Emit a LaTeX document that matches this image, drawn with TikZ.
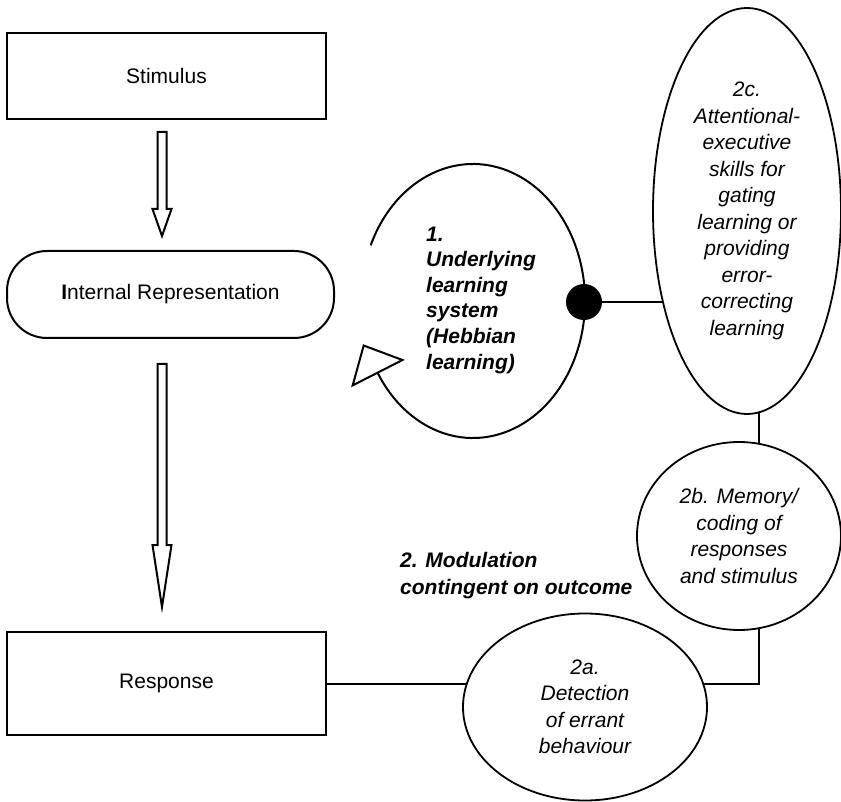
\documentclass[tikz,border=0pt]{standalone}
\usepackage{fontspec}
\setmainfont{Liberation Sans}
\usetikzlibrary{shapes.geometric,arrows.meta,calc}
\begin{document}
\begin{tikzpicture}[x=1pt,y=1pt,
  every node/.style={font=\fontsize{21}{25.6}\selectfont, inner sep=0pt},
  line/.style={line width=2pt},
  boxnode/.style={draw, line width=2pt, rectangle},
  ell/.style={draw, line width=1.8pt, ellipse, align=center, font=\fontsize{21}{26.5}\selectfont\itshape},
  blockarrow/.style={draw, line width=2pt, fill=white, line join=miter}
]
\useasboundingbox (0,0) rectangle (841,-802);

% boxes
\node[boxnode, minimum width=319, minimum height=86] (stim) at (166.5,-76) {Stimulus};
\node[boxnode, rounded corners=40, minimum width=327, minimum height=87] (ir) at (170.5,-294.5) {\textbf{I}nternal Representation\hspace{6pt}};
\node[boxnode, minimum width=319, minimum height=103] (resp) at (166.5,-683.5) {Response};

% block arrows
\coordinate (a1s) at (162,-132);
\coordinate (a1t) at (162,-236);
\draw[blockarrow] ($(a1s)+(-4.5,0)$) -- ($(a1s)+(4.5,0)$) -- ($(a1t)+(4.5,27)$) -- ($(a1t)+(9.5,27)$) -- (a1t) -- ($(a1t)+(-9.5,27)$) -- ($(a1t)+(-4.5,27)$) -- cycle;
\coordinate (a2s) at (162,-364);
\coordinate (a2t) at (162,-607);
\draw[blockarrow] ($(a2s)+(-4.5,0)$) -- ($(a2s)+(4.5,0)$) -- ($(a2t)+(4.5,62)$) -- ($(a2t)+(9.5,62)$) -- (a2t) -- ($(a2t)+(-9.5,62)$) -- ($(a2t)+(-4.5,62)$) -- cycle;

% loop
\coordinate (loopc) at (473,-301);
\draw[line, -{Triangle[open, length=33pt, width=60pt, line width=2pt]}]
  ($(loopc)+(156:112 and 137)$) arc[start angle=156, end angle=-148, x radius=112, y radius=137] -- ++(-15,29.4);
\node[anchor=west, align=left, font=\fontsize{21}{25.6}\selectfont\bfseries\itshape] (hebb) at (426,-300)
  {1.\\Underlying\\learning\\system\\(Hebbian\\learning)};

% ellipses
\node[ell, minimum width=188, minimum height=406] (c2c) at (747,-211)
  {2c.\\Attentional-\\executive\\skills for\\gating\\learning or\\providing\\error-\\correcting\\learning};
\node[ell, minimum width=204, minimum height=188] (c2b) at (739,-536)
  {2b. Memory/\\coding of\\responses\\and stimulus};
\node[ell, minimum width=244, minimum height=187] (c2a) at (585,-707)
  {2a.\\Detection\\of errant\\behaviour};

\node[anchor=west, align=left, font=\fontsize{21}{27}\selectfont\bfseries\itshape] (mod) at (400,-575.5)
  {2. Modulation\\contingent on outcome};

% dot and connectors
\node[circle, fill=black, minimum size=36] (dot) at (584,-302) {};
\draw[line] (dot) -- (dot -| c2c.227.3);
\draw[line] (resp.east) -- (resp.east -| c2a.168.5);
\draw[line] (c2a.11.5) -| (c2b.-78.4);
\draw[line] (c2b.78.4) -- (c2b.78.4 |- c2c.-86.9);
\end{tikzpicture}
\end{document}
